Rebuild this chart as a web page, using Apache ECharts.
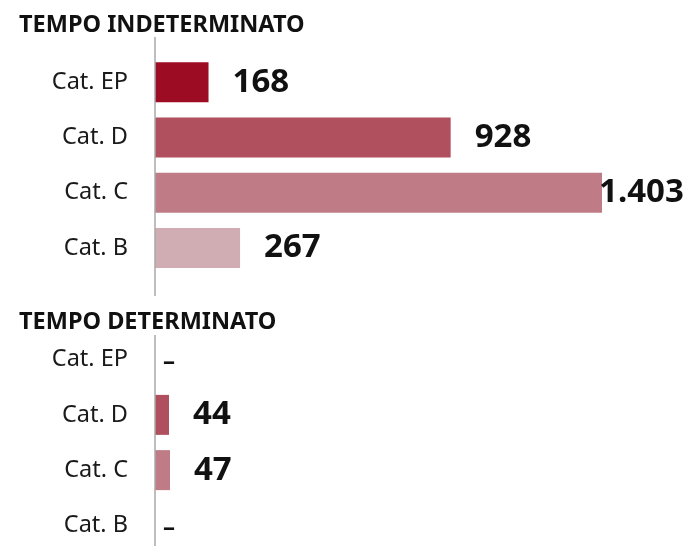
<!DOCTYPE html>
<html>
<head>
    <meta charset="utf-8">
    <style>
        html, body { margin: 0; padding: 0; width: 100%; height: 100%; background: #fff; }
        #chart { width: 690px; height: 546px; }
    </style>
</head>
<body>
    <div id="chart"></div>
    <script src="https://cdn.jsdelivr.net/npm/echarts@6/dist/echarts.min.js"></script>
    <script>
        // dati
        var categories = ['Cat. EP', 'Cat. D', 'Cat. C', 'Cat. B'];
        var indetValues = [168, 928, 1403, 267];
        var detValues = [null, 44, 47, null];   // null = "–"
        var barColors = ['#9c0d24', '#b0505e', '#c07c86', '#d0adb2'];
        var titles = ['TEMPO INDETERMINATO', 'TEMPO DETERMINATO'];
        var xMax = 1403;

        var chart = echarts.init(document.getElementById('chart'));

        function fmt (v) {
            return String(v).replace(/\B(?=(\d{3})+(?!\d))/g, '.');
        }

        function buildData (values) {
            return values.map(function (v, i) {
                if (v === null) {
                    return {
                        value: 0,
                        itemStyle: { color: barColors[i] },
                        label: { formatter: '–', distance: 8, fontSize: 24, offset: [0, 3] }
                    };
                }
                var item = { value: v, itemStyle: { color: barColors[i] } };
                if (v === xMax) {
                    item.label = { offset: [-27, 0] };
                }
                return item;
            });
        }

        var labelFont = 'Noto Sans';

        function barSeries (idx, values) {
            return {
                type: 'bar',
                xAxisIndex: idx,
                yAxisIndex: idx,
                barWidth: 40,
                silent: true,
                data: buildData(values),
                label: {
                    show: true,
                    position: 'right',
                    distance: 24,
                    color: '#111',
                    fontFamily: labelFont,
                    fontWeight: 'bold',
                    fontSize: 33,
                    formatter: function (p) { return fmt(p.value); }
                }
            };
        }

        function yAxis (idx) {
            return {
                type: 'category',
                gridIndex: idx,
                inverse: true,
                data: categories,
                axisLine: { show: false },
                axisTick: { show: false },
                axisLabel: {
                    margin: 27,
                    color: '#1a1a1a',
                    fontFamily: labelFont,
                    fontSize: 23.5
                }
            };
        }

        function xAxis (idx) {
            return {
                type: 'value',
                gridIndex: idx,
                min: 0,
                max: xMax,
                show: false
            };
        }

        var titleStyle = { fontFamily: labelFont, fontWeight: 'bold', fontSize: 23.5, color: '#111' };

        var option = {
            animation: false,
            title: [
                { text: titles[0], left: 14, top: 8, textStyle: titleStyle },
                { text: titles[1], left: 14, top: 305, textStyle: titleStyle }
            ],
            grid: [
                { left: 155, top: 54.5, width: 447, height: 221, outerBoundsMode: 'none' },
                { left: 155, top: 332, width: 447, height: 221, outerBoundsMode: 'none' }
            ],
            xAxis: [xAxis(0), xAxis(1)],
            yAxis: [yAxis(0), yAxis(1)],
            series: [barSeries(0, indetValues), barSeries(1, detValues)],
            graphic: [
                {
                    type: 'line', z: 10,
                    shape: { x1: 155, y1: 37, x2: 155, y2: 296 },
                    style: { stroke: '#a8a8a8', lineWidth: 1.5 }
                },
                {
                    type: 'line', z: 10,
                    shape: { x1: 155, y1: 335, x2: 155, y2: 546 },
                    style: { stroke: '#a8a8a8', lineWidth: 1.5 }
                }
            ]
        };

        chart.setOption(option);
    </script>
</body>
</html>
